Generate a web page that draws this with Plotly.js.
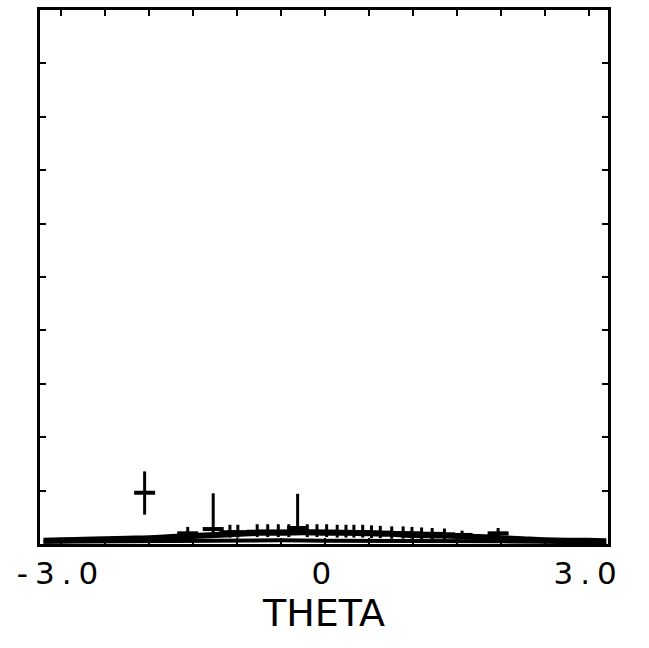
<!DOCTYPE html>
<html>
<head>
<meta charset="utf-8">
<script src="https://cdn.plot.ly/plotly-3.0.1.min.js"></script>
<style>
html,body{margin:0;padding:0;background:#fff;}
#chart{width:649px;height:648px;}
.xtick text{letter-spacing:7px;}
</style>
</head>
<body>
<div id="chart"></div>
<script>
// Curve (information-like function) near the baseline
const curveTheta = [-3.2,-3.0,-2.75,-2.5,-2.25,-2.0,-1.75,-1.5,-1.25,-1.0,-0.75,-0.5,-0.25,0,0.25,0.5,0.75,1.0,1.25,1.5,1.75,2.0,2.25,2.5,2.75,3.0,3.2];
const curveValue = [0.06,0.07,0.08,0.09,0.10,0.11,0.13,0.15,0.17,0.19,0.21,0.21,0.22,0.21,0.21,0.20,0.19,0.17,0.16,0.15,0.13,0.11,0.09,0.07,0.06,0.06,0.05];
// Lower baseline curve
const baseTheta = [-3.2,-2.5,-2.0,-1.5,-1.0,-0.5,0,0.5,1.0,1.5,2.0,2.5,3.2];
const baseValue = [0.04,0.05,0.06,0.07,0.07,0.07,0.06,0.06,0.06,0.06,0.05,0.04,0.03];
// Observed points with error bars
const pointTheta = [-2.05,-1.56,-1.27,-1.08,-0.99,-0.77,-0.65,-0.53,-0.41,-0.31,-0.20,-0.09,0.02,0.14,0.24,0.33,0.43,0.53,0.63,0.76,0.89,0.99,1.10,1.22,1.36,1.56,1.97];
const pointValue = [0.96,0.20,0.28,0.22,0.22,0.23,0.23,0.23,0.23,0.30,0.23,0.23,0.23,0.22,0.22,0.22,0.22,0.21,0.21,0.20,0.20,0.20,0.19,0.19,0.18,0.17,0.20];
const errPlus   = [0.40,0.12,0.67,0.14,0.14,0.14,0.14,0.14,0.14,0.64,0.14,0.14,0.14,0.14,0.14,0.14,0.14,0.14,0.13,0.13,0.13,0.12,0.12,0.11,0.11,0.08,0.10];
const errMinus  = [0.41,0.10,0.15,0.10,0.10,0.10,0.10,0.10,0.10,0.10,0.10,0.10,0.10,0.10,0.10,0.10,0.10,0.10,0.10,0.10,0.10,0.10,0.10,0.10,0.10,0.06,0.10];
// Tick labels
const xTickVals = [-3,-2.5,-2,-1.5,-1,-0.5,0,0.5,1,1.5,2,2.5,3];
const xTickText = ['-3.0','','','','','','0','','','','','','3.0'];
const yTickVals = [1,2,3,4,5,6,7,8,9];

const traces = [
  {x: baseTheta, y: baseValue, mode: 'lines', line: {color: '#000', width: 4}, hoverinfo: 'skip'},
  {x: curveTheta, y: curveValue, mode: 'lines', line: {color: '#000', width: 6, shape: 'spline'}, hoverinfo: 'skip'},
  {x: pointTheta, y: pointValue, mode: 'markers',
   marker: {symbol: 'line-ew', size: 15, color: '#000', line: {color: '#000', width: 4}},
   error_y: {type: 'data', symmetric: false, array: errPlus, arrayminus: errMinus, color: '#000', thickness: 3, width: 0}}
];

const layout = {
  width: 649, height: 648,
  margin: {l: 40, r: 41, t: 10, b: 104},
  paper_bgcolor: '#fff', plot_bgcolor: '#fff',
  showlegend: false,
  font: {family: 'DejaVu Sans', color: '#000'},
  xaxis: {
    range: [-3.24, 3.22], showgrid: false, zeroline: false,
    showline: true, linecolor: '#000', linewidth: 3, mirror: 'ticks',
    ticks: 'inside', ticklen: 6, tickwidth: 2, tickcolor: '#000',
    tickmode: 'array', tickvals: xTickVals, ticktext: xTickText,
    tickfont: {family: 'DejaVu Sans', size: 31, color: '#000'},
    title: {text: 'THETA', font: {family: 'DejaVu Sans', size: 38, color: '#000'}, standoff: 4}
  },
  yaxis: {
    range: [0, 10], showgrid: false, zeroline: false,
    showline: true, linecolor: '#000', linewidth: 3, mirror: 'ticks',
    ticks: 'inside', ticklen: 6, tickwidth: 2, tickcolor: '#000',
    tickmode: 'array', tickvals: yTickVals, showticklabels: false
  }
};

Plotly.newPlot('chart', traces, layout, {staticPlot: true});
</script>
</body>
</html>
